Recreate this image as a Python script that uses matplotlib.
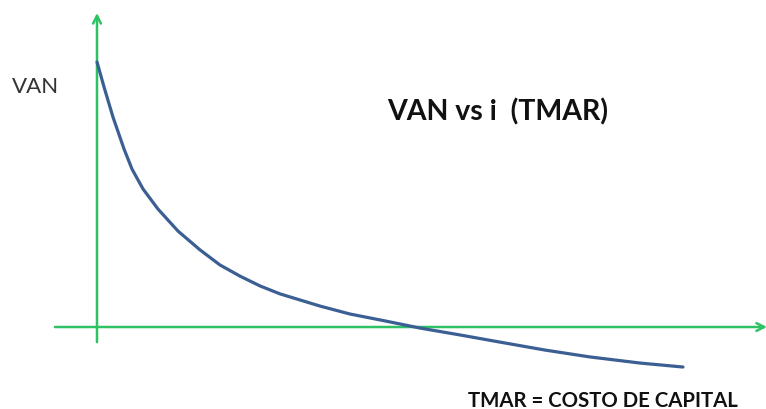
import matplotlib
matplotlib.use("Agg")
import matplotlib.pyplot as plt

# tasa de descuento i (%) y VAN
tasa = [0, 0.35, 0.8, 1.35, 1.75, 2.3, 3.05, 4.05, 5.15, 6.15, 7.15, 8.15,
        9.15, 10.15, 11.15, 12.65, 14.4, 16.15, 18.15, 20.15, 22.4, 24.65,
        27.15, 29.3]
van = [100, 90.6, 79.2, 67.2, 59.6, 52.1, 44.5, 36.2, 29.1, 23.4, 19.2, 15.5,
       12.5, 10.2, 7.9, 4.9, 2.3, -0.4, -3.0, -5.7, -8.7, -11.3,
       -13.6, -15.1]

green = "#2fc265"
blue = "#3b5f93"

fig = plt.figure(figsize=(7.66, 4.10), dpi=100)
ax = fig.add_axes([0, 0, 1, 1])
ax.set_xlim(-4.85, 33.45)
ax.set_ylim(-30.94, 123.77)
ax.axis("off")

# ejes con flechas
ax.annotate("", xy=(33.5, 0), xytext=(-2.1, 0), annotation_clip=False,
            arrowprops=dict(arrowstyle="->", color=green, lw=1.8,
                            mutation_scale=14, shrinkA=0, shrinkB=0))
ax.annotate("", xy=(0, 118.5), xytext=(0, -5.7), annotation_clip=False,
            arrowprops=dict(arrowstyle="->", color=green, lw=1.8,
                            mutation_scale=14, shrinkA=0, shrinkB=0))

ax.plot(tasa, van, color=blue, lw=2.3, solid_capstyle="round",
        solid_joinstyle="round", zorder=3)

ax.text(12 / 20 - 4.85, (328 - 87) / 2.65, "VAN", fontsize=16,
        family="Lato", color="#333333", ha="left", va="center")
ax.text((498 - 97) / 20, (328 - 112) / 2.65, "VAN vs i  (TMAR)", fontsize=20.5,
        family="Lato", fontweight="bold", color="#111111", ha="center", va="center")
ax.text((603 - 97) / 20, (328 - 401) / 2.65, "TMAR = COSTO DE CAPITAL", fontsize=14.7,
        family="Lato", fontweight="bold", color="#111111", ha="center", va="center")

fig.savefig("out.png", dpi=100)
